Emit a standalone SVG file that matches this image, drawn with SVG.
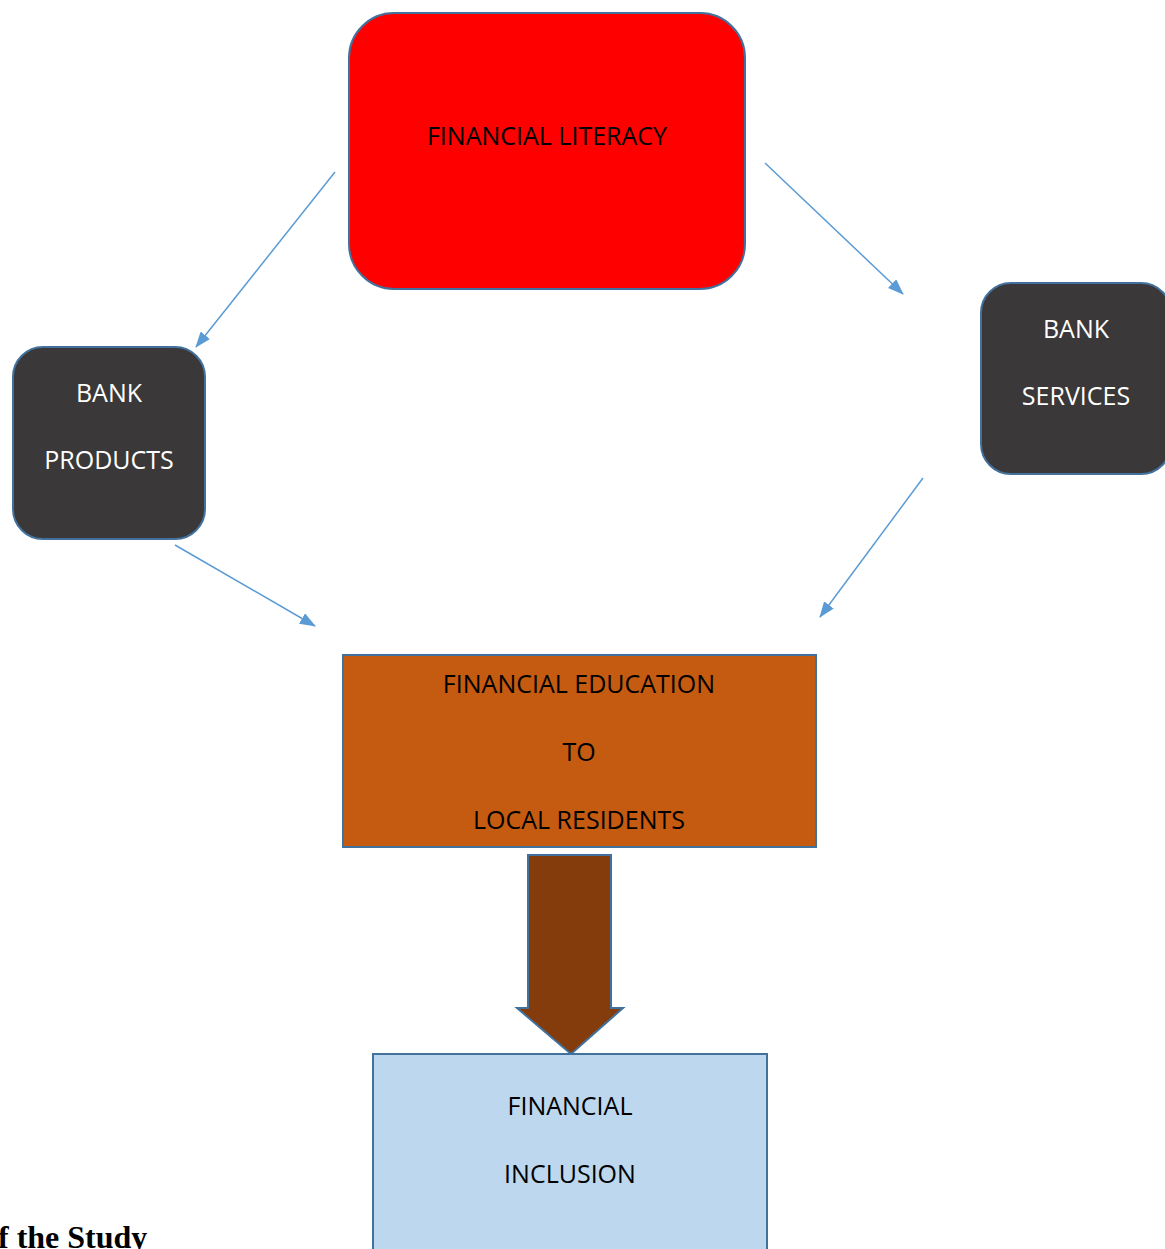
<svg xmlns="http://www.w3.org/2000/svg" width="1165" height="1249" viewBox="0 0 1165 1249">
<defs>
<style>
.lbl{font-family:"Open Sans","Liberation Sans",sans-serif;font-size:25px;text-anchor:middle}
.dark{fill:#3a3838;stroke:#41719c;stroke-width:2}
.conn{stroke:#5b9bd5;stroke-width:1.5;fill:none;marker-end:url(#ah)}
</style>
<marker id="ah" markerWidth="16" markerHeight="12" refX="15" refY="6" orient="auto" markerUnits="userSpaceOnUse" viewBox="0 0 16 12">
<path d="M0,0 L16,6 L0,12 Z" fill="#5b9bd5"/>
</marker>
</defs>
<rect width="1165" height="1249" fill="#fff"/>
<g id="connectors">
<line class="conn" x1="335" y1="172" x2="196" y2="347"/>
<line class="conn" x1="765" y1="163" x2="903" y2="294"/>
<line class="conn" x1="175" y1="545" x2="315" y2="626"/>
<line class="conn" x1="923" y1="478" x2="820" y2="617"/>
<path d="M528,855 H611 V1008 H623 L571,1054 L517,1008 H528 Z" fill="#843c0c" stroke="#41719c" stroke-width="2"/>
</g>
<g id="financial-literacy">
<rect x="349" y="13" width="396" height="276" rx="45" fill="#ff0000" stroke="#41719c" stroke-width="2"/>
<text class="lbl" x="547" y="145" fill="#000">FINANCIAL LITERACY</text>
</g>
<g id="bank-products">
<rect class="dark" x="13" y="347" width="192" height="192" rx="30"/>
<text class="lbl" x="109" y="402" fill="#fff">BANK</text>
<text class="lbl" x="109" y="469" fill="#fff">PRODUCTS</text>
</g>
<g id="bank-services">
<rect class="dark" x="981" y="283" width="190" height="191" rx="30"/>
<text class="lbl" x="1076" y="338" fill="#fff">BANK</text>
<text class="lbl" x="1076" y="405" fill="#fff">SERVICES</text>
</g>
<g id="financial-education">
<rect x="343" y="655" width="473" height="192" fill="#c55a11" stroke="#41719c" stroke-width="2"/>
<text class="lbl" x="579" y="693" fill="#000">FINANCIAL EDUCATION</text>
<text class="lbl" x="579" y="761" fill="#000">TO</text>
<text class="lbl" x="579" y="829" fill="#000">LOCAL RESIDENTS</text>
</g>
<g id="financial-inclusion">
<rect x="373" y="1054" width="394" height="210" fill="#bdd7ee" stroke="#41719c" stroke-width="2"/>
<text class="lbl" x="570" y="1115" fill="#000">FINANCIAL</text>
<text class="lbl" x="570" y="1183" fill="#000">INCLUSION</text>
</g>
<text x="-2" y="1248" font-family="'Liberation Serif',serif" font-weight="bold" font-size="32">f the Study</text>
</svg>
